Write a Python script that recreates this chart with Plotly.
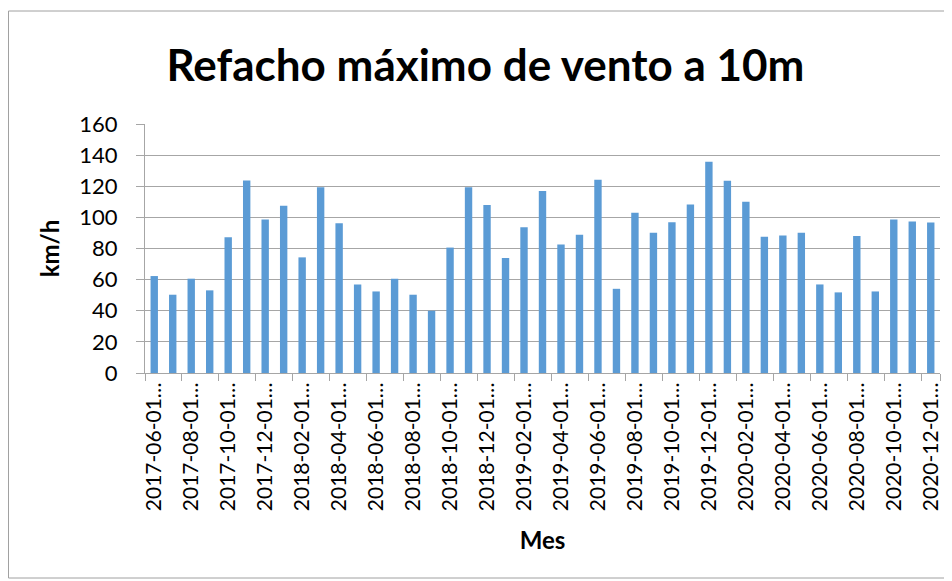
import plotly.graph_objects as go
import pandas as pd

months = [d.strftime("%Y-%m-%d") for d in pd.date_range("2017-06-01", "2020-12-01", freq="MS")]
values = [62.3, 50.3, 60.6, 53.1, 87.2, 123.7, 98.6, 107.4, 74.3, 119.4,
          96.2, 56.9, 52.4, 60.6, 50.3, 40.0, 80.6, 119.4, 108.0, 73.9,
          93.7, 116.9, 82.5, 88.9, 124.2, 54.1, 102.9, 90.2, 96.9, 108.3,
          135.8, 123.5, 110.0, 87.6, 88.3, 90.2, 56.9, 51.8, 88.1, 52.4,
          98.6, 97.3, 96.7]
tick_vals = months[::2]
tick_text = [m + "…" for m in tick_vals]
y_ticks = [0, 20, 40, 60, 80, 100, 120, 140, 160]

FONT = "Lato"
GRID = "#a6a6a6"

fig = go.Figure(go.Bar(x=months, y=values, marker=dict(color="#5B9BD5", line=dict(width=0))))

fig.update_layout(
    width=944, height=573,
    paper_bgcolor="white", plot_bgcolor="white",
    margin=dict(l=137, r=12, t=116, b=208, autoexpand=False),
    bargap=0.6,
    showlegend=False,
    font=dict(family=FONT, color="black"),
    title=dict(text="<b>Refacho máximo de vento a 10m</b>", x=0.5058, xanchor="center",
               y=0.9, yanchor="middle", font=dict(size=44, family=FONT, color="black")),
    shapes=[dict(type="rect", xref="paper", yref="paper", x0=-0.1717, x1=1.0088, y0=-0.8233, y1=1.4538,
                 line=dict(color="#a0a0a0", width=1), layer="below")],
)

fig.update_xaxes(
    type="category", tickmode="array", tickvals=tick_vals, ticktext=tick_text,
    tickson="boundaries", ticks="outside", ticklen=7, tickcolor=GRID, tickangle=-90,
    showline=True, linecolor=GRID, linewidth=1, showgrid=False,
    tickfont=dict(size=21, family=FONT, color="black"),
    title=dict(text="<b>Mes</b>", font=dict(size=24, family=FONT, color="black"), standoff=22),
    range=[-0.5, len(months) - 0.5],
)
fig.update_yaxes(
    range=[0, 160], tickmode="array", tickvals=y_ticks,
    ticks="outside", ticklen=8, tickcolor=GRID, ticklabelstandoff=14,
    showline=True, linecolor=GRID, linewidth=1,
    showgrid=True, gridcolor=GRID, gridwidth=1, zeroline=False,
    tickfont=dict(size=22, family=FONT, color="black"),
    title=dict(text="<b>km/h</b>", font=dict(size=24, family=FONT, color="black"), standoff=12),
)

fig.write_html("out.html")
